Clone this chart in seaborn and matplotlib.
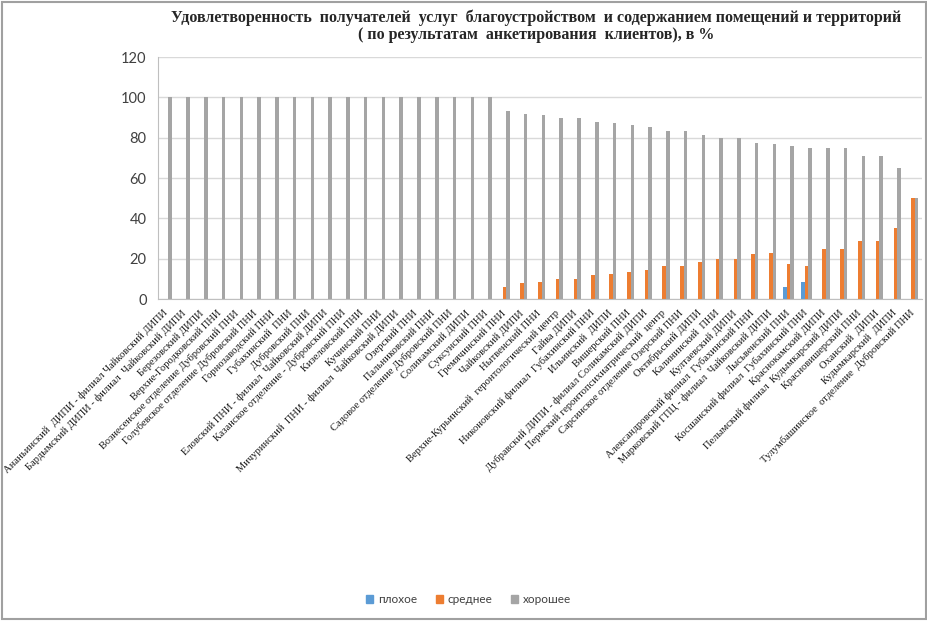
import pandas as pd
import matplotlib.pyplot as plt
import seaborn as sns
from matplotlib.patches import Rectangle
from matplotlib.ticker import FixedLocator

# Учреждения (ось X)
categories = [
    'Ананьинский  ДИПИ - филиал Чайковский ДИПИ',
    'Бардымский ДИПИ - филиал  Чайковский ДИПИ',
    'Березовский ДИПИ',
    'Верхне-Городковский ПНИ',
    'Вознесенское отделение Дубровский ПНИ',
    'Голубевское отделение Дубровский ПНИ',
    'Горнозаводский ПНИ',
    'Губахинский  ПНИ',
    'Дубровский ПНИ',
    'Еловский ПНИ - филиал  Чайковский ДИПИ',
    'Казанское отделение - Дубровский ПНИ',
    'Кизеловский ПНИ',
    'Кучинский ПНИ',
    'Мичуринский  ПНИ - филиал  Чайковский ДИПИ',
    'Озерский ПНИ',
    'Пальниковский ПНИ',
    'Садовое отделение Дубровский ПНИ',
    'Соликамский ДИПИ',
    'Суксунский ПНИ',
    'Гремячинский ПНИ',
    'Чайковский ДИПИ',
    'Нытвенский ПНИ',
    'Верхне-Курьинский  геронтологический центр',
    'Гайва ДИПИ',
    'Никоновский филиал  Губахинский ПНИ',
    'Ильинский  ДИПИ',
    'Вишерский ПНИ',
    'Дубравский ДИПИ - филиал Соликамский ДИПИ',
    'Пермский геронтопсихиатрический  центр',
    'Сарсинское отделение Озерский ПНИ',
    'Октябрьский ДИПИ',
    'Калининский  ПНИ',
    'Култаевский ДИПИ',
    'Александровский филиал  Губахинский ПНИ',
    'Марковский ГПЦ - филиал  Чайковский ДИПИ',
    'Лысьвенский ПНИ',
    'Косшанский филиал  Губахинский ПНИ',
    'Краснокамский ДИПИ',
    'Пелымский филиал  Кудымкарский ДИПИ',
    'Красновишерский ПНИ',
    'Оханский  ДИПИ',
    'Кудымкарский  ДИПИ',
    'Тулумбашинское  отделение  Дубровский ПНИ',
]

# Значения по сериям, %
bad = [0] * 35 + [6, 8.5] + [0] * 6
medium = [0] * 19 + [6, 8, 8.5, 10, 10, 12, 12.5, 13.5, 14.5, 16.5, 16.5, 18.5,
                     20, 20, 22.5, 23, 17.5, 16.5, 25, 25, 29, 29, 35, 50]
good = [100] * 19 + [93.5, 92, 91.5, 90, 90, 88, 87.5, 86.5, 85.5, 83.5, 83.5,
                     81.5, 80, 80, 77.5, 77, 76, 75, 75, 75, 71, 71, 65, 50]

series = ['плохое', 'среднее', 'хорошее']
colors = ['#5B9BD5', '#ED7D31', '#A5A5A5']

df = pd.DataFrame({
    'cat': categories * 3,
    'val': bad + medium + good,
    'series': [s for s in series for _ in categories],
})

sns.set_style('white')
plt.rcParams['font.family'] = ['Liberation Serif', 'DejaVu Sans']

fig = plt.figure(figsize=(9.28, 6.21), dpi=100)
ax = fig.add_axes([0.170, 0.5185, 0.8235, 0.3895])

sns.barplot(data=df, x='cat', y='val', hue='series', hue_order=series,
            palette=colors, width=0.6, gap=0, dodge=True, ax=ax,
            saturation=1, linewidth=0, legend=True)

ax.set_ylim(0, 120)
ax.set_xlim(-0.5, len(categories) - 0.5)
ax.set_yticks(range(0, 121, 20))
ax.yaxis.grid(True, color='#D9D9D9', linewidth=1)
ax.set_axisbelow(True)
ax.set_xlabel('')
ax.set_ylabel('')

for s in ['top', 'right']:
    ax.spines[s].set_visible(False)
for s in ['left', 'bottom']:
    ax.spines[s].set_color('#BFBFBF')

ax.set_xticks(range(len(categories)))
ax.set_xticklabels(categories, rotation=45, ha='right', va='center',
                   rotation_mode='anchor', fontsize=7.6, color='#1a1a1a')
ax.tick_params(axis='x', which='major', length=0, pad=9)
ax.xaxis.set_minor_locator(FixedLocator([i - 0.5 for i in range(len(categories) + 1)]))
ax.tick_params(axis='x', which='minor', length=4, color='#BFBFBF', width=1)
ax.tick_params(axis='y', length=0, pad=8, labelsize=10.5, labelcolor='#404040')
for lab in ax.get_yticklabels():
    lab.set_family('Lato')

fig.text(0.578, 0.972, 'Удовлетворенность  получателей  услуг  благоустройством  и содержанием помещений и территорий',
         ha='center', va='center', fontsize=11.5, fontweight='bold')
fig.text(0.578, 0.944, '( по результатам  анкетирования  клиентов), в %',
         ha='center', va='center', fontsize=11.5, fontweight='bold')

ax.legend_.remove()
handles = [Rectangle((0, 0), 1, 1, color=c) for c in colors]
leg = fig.legend(handles, series, loc='center', bbox_to_anchor=(0.505, 0.034),
                 ncol=3, frameon=False, fontsize=8.5, handlelength=0.6,
                 handleheight=0.6, handletextpad=0.4, columnspacing=1.6)
for t in leg.get_texts():
    t.set_family('Lato')
    t.set_color('#404040')

fig.patches.append(Rectangle((0.002, 0.004), 0.996, 0.992, transform=fig.transFigure,
                             fill=False, edgecolor='#A0A0A0', linewidth=1.5))

plt.savefig('out.png', dpi=100)
